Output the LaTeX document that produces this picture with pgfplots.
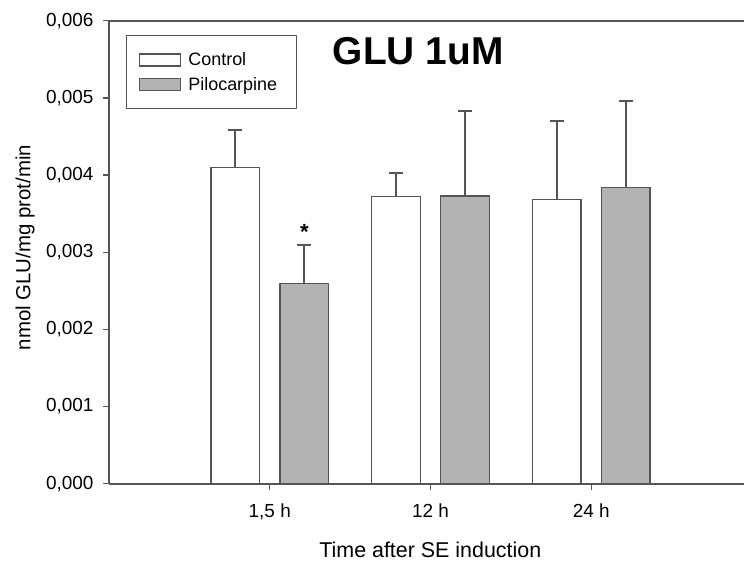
\documentclass[border=0pt]{standalone}
\usepackage{fontspec}
\setmainfont{Liberation Sans}
\usepackage{pgfplots}
\pgfplotsset{compat=1.18}
\definecolor{barfill}{HTML}{B3B3B3}
\definecolor{edge}{HTML}{555555}

\begin{document}
\begin{tikzpicture}
\useasboundingbox (-109bp,-82.5bp) rectangle (635bp,483.7bp);
\begin{axis}[
  at={(0,0)}, anchor=south west,
  scale only axis,
  width=635bp, height=463bp,
  xmin=0, xmax=3.95,
  ymin=0, ymax=0.006,
  axis x line=box, axis y line=left,
  axis line style={-, draw=edge, line width=1.6bp},
  xtick={1,2,3}, xticklabels={{1,5 h},{12 h},{24 h}},
  xtick pos=left,
  ytick={0,0.001,0.002,0.003,0.004,0.005,0.006},
  scaled y ticks=false,
  yticklabel style={xshift=-6bp, /pgf/number format/.cd, fixed, fixed zerofill, precision=3, use comma},
  xticklabel style={yshift=-11bp},
  /pgf/number format/assume math mode=true,
  tick align=outside,
  major tick length=6bp,
  tick style={draw=edge, line width=1.3bp},
  ticklabel style={font=\fontsize{19}{22}\selectfont},
  xlabel={Time after SE induction},
  ylabel={nmol GLU/mg prot/min},
  xlabel style={font=\fontsize{21.5}{24}\selectfont, at={(axis description cs:0.506,-0.143)}, anchor=center},
  ylabel style={font=\fontsize{20.5}{24}\selectfont, at={(axis description cs:-0.132,0.51)}, anchor=center, rotate=0},
  ybar, bar width=48.5bp,
  error bars/y dir=plus, error bars/y explicit,
  error bars/error bar style={draw=edge, line width=2bp},
  error bars/error mark options={rotate=90, mark size=7bp, line width=2bp, draw=edge},
  legend style={at={(axis description cs:0.0268,0.969)}, anchor=north west,
    draw=edge, line width=1.2bp, font=\fontsize{18}{20}\selectfont,
    inner xsep=12bp, inner ysep=15bp, row sep=6bp, cells={anchor=west},
    nodes={inner xsep=7.5bp}},
  legend image code/.code={\draw[#1,/tikz/.cd,line width=1.3bp] (0bp,-6bp) rectangle (41bp,6bp);},
]
\addplot[draw=edge, line width=1.3bp, fill=white, bar shift=-34.5bp]
coordinates {
  (1,0.00410) +- (0,0.000485)
  (2,0.003725) +- (0,0.000295)
  (3,0.00368) +- (0,0.001025)
};
\addplot[draw=edge, line width=1.3bp, fill=barfill, bar shift=34.5bp]
coordinates {
  (1,0.00259) +- (0,0.00050)
  (2,0.00373) +- (0,0.00110)
  (3,0.00384) +- (0,0.001125)
};
\legend{Control, Pilocarpine}
\node[font=\fontsize{39}{44}\selectfont\bfseries] at (axis description cs:0.487,0.935) {GLU 1uM};
\node[font=\fontsize{22}{22}\selectfont\bfseries, anchor=base] at (axis cs:1.2147,0.00317) {*};
\end{axis}
\end{tikzpicture}
\end{document}
